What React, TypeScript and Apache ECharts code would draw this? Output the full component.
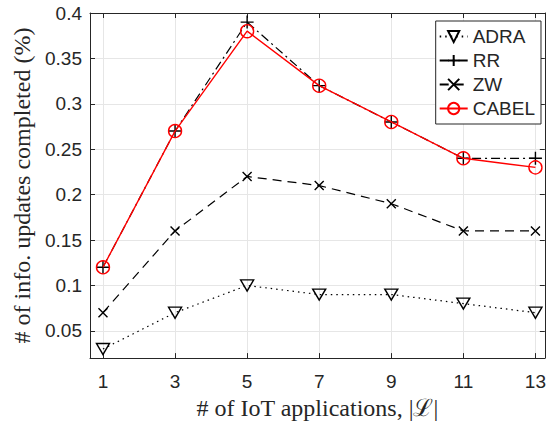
import React, { useEffect, useRef } from "react";
import * as echarts from "echarts";

const xValues = [1, 3, 5, 7, 9, 11, 13];
const adra = [0.03, 0.07, 0.1, 0.09, 0.09, 0.08, 0.07];
const rr = [0.12, 0.27, 0.39, 0.32, 0.28, 0.24, 0.24];
const zw = [0.07, 0.16, 0.22, 0.21, 0.19, 0.16, 0.16];
const cabel = [0.12, 0.27, 0.38, 0.32, 0.28, 0.24, 0.23];
const xTicks = [1, 3, 5, 7, 9, 11, 13];
const yTicks = [0.05, 0.1, 0.15, 0.2, 0.25, 0.3, 0.35, 0.4];

const triDown = "path://M0,0L12,0L6,10Z";
const plus = "path://M6,0L6,12M0,6L12,6";
const cross = "path://M0,0L10,10M0,10L10,0";

const pts = (ys: number[]) => xValues.map((x, i) => [x, ys[i]]);

export default function App() {
  const ref = useRef<HTMLDivElement>(null);
  useEffect(() => {
    if (!ref.current) return;
    const chart = echarts.init(ref.current, undefined, { renderer: "svg" });
    const tickFont = { fontFamily: "Liberation Sans, Arial, sans-serif", fontSize: 19, color: "#262626" };
    const titleFont = { fontFamily: "Liberation Serif, serif", fontSize: 24, color: "#262626" };
    const axisCommon = {
      axisLine: { show: true, lineStyle: { color: "#262626", width: 1 } },
      axisTick: { show: true, inside: true, length: 5, lineStyle: { color: "#262626" } },
    };
    chart.setOption({
      animation: false,
      backgroundColor: "#ffffff",
      grid: { left: 90, top: 13, right: 4, bottom: 62, containLabel: false },
      legend: {
        orient: "vertical",
        right: 8,
        top: 21,
        padding: [6, 6, 6, 3],
        itemGap: 5,
        itemWidth: 28,
        itemHeight: 14,
        borderColor: "#262626",
        borderWidth: 1,
        borderRadius: 0,
        backgroundColor: "#ffffff",
        textStyle: { ...tickFont, fontSize: 19 },
        data: ["ADRA", "RR", "ZW", "CABEL"],
      },
      xAxis: [
        {
          type: "value",
          min: 0.64,
          max: 13.26,
          ...axisCommon,
          axisTick: { ...axisCommon.axisTick, customValues: xTicks },
          axisLabel: { ...tickFont, margin: 14, customValues: xTicks },
          splitLine: { show: true, lineStyle: { color: "#e6e6e6", width: 1 } },
          name: "# of IoT applications, |\u2112|",
          nameLocation: "middle",
          nameGap: 37,
          nameTextStyle: titleFont,
        },
        {
          type: "value",
          position: "top",
          min: 0.64,
          max: 13.26,
          ...axisCommon,
          axisTick: { ...axisCommon.axisTick, customValues: xTicks },
          axisLabel: { show: false },
          splitLine: { show: false },
        },
      ],
      yAxis: [
        {
          type: "value",
          min: 0.02,
          max: 0.4,
          ...axisCommon,
          axisTick: { ...axisCommon.axisTick, customValues: yTicks },
          axisLabel: { ...tickFont, margin: 8, customValues: yTicks },
          splitLine: { show: true, lineStyle: { color: "#e6e6e6", width: 1 } },
          name: "# of info. updates completed (%)",
          nameLocation: "middle",
          nameGap: 51,
          nameTextStyle: titleFont,
        },
        {
          type: "value",
          position: "right",
          min: 0.02,
          max: 0.4,
          ...axisCommon,
          axisTick: { ...axisCommon.axisTick, customValues: yTicks },
          axisLabel: { show: false },
          splitLine: { show: false },
        },
      ],
      series: [
        {
          name: "ADRA",
          type: "line",
          data: pts(adra),
          symbol: triDown,
          symbolSize: [13, 11],
          lineStyle: { color: "#000", width: 1.2, type: [1.5, 4] },
          itemStyle: { color: "rgba(0,0,0,0)", borderColor: "#000", borderWidth: 1.4 },
          z: 2,
        },
        {
          name: "RR",
          type: "line",
          data: pts(rr),
          symbol: plus,
          symbolSize: 13,
          lineStyle: { color: "#000", width: 1.2, type: [9, 4, 2, 4] },
          itemStyle: { color: "rgba(0,0,0,0)", borderColor: "#000", borderWidth: 1.4 },
          z: 3,
        },
        {
          name: "ZW",
          type: "line",
          data: pts(zw),
          symbol: cross,
          symbolSize: 9,
          lineStyle: { color: "#000", width: 1.2, type: [9, 6] },
          itemStyle: { color: "rgba(0,0,0,0)", borderColor: "#000", borderWidth: 1.4 },
          z: 2,
        },
        {
          name: "CABEL",
          type: "line",
          data: pts(cabel),
          symbol: "circle",
          symbolSize: 13,
          lineStyle: { color: "#ff0000", width: 1.4, type: "solid" },
          itemStyle: { color: "rgba(0,0,0,0)", borderColor: "#ff0000", borderWidth: 1.4 },
          z: 4,
        },
      ],
    });
    return () => chart.dispose();
  }, []);
  return <div ref={ref} style={{ width: 549, height: 425, position: "absolute", left: 0, top: 0 }} />;
}
